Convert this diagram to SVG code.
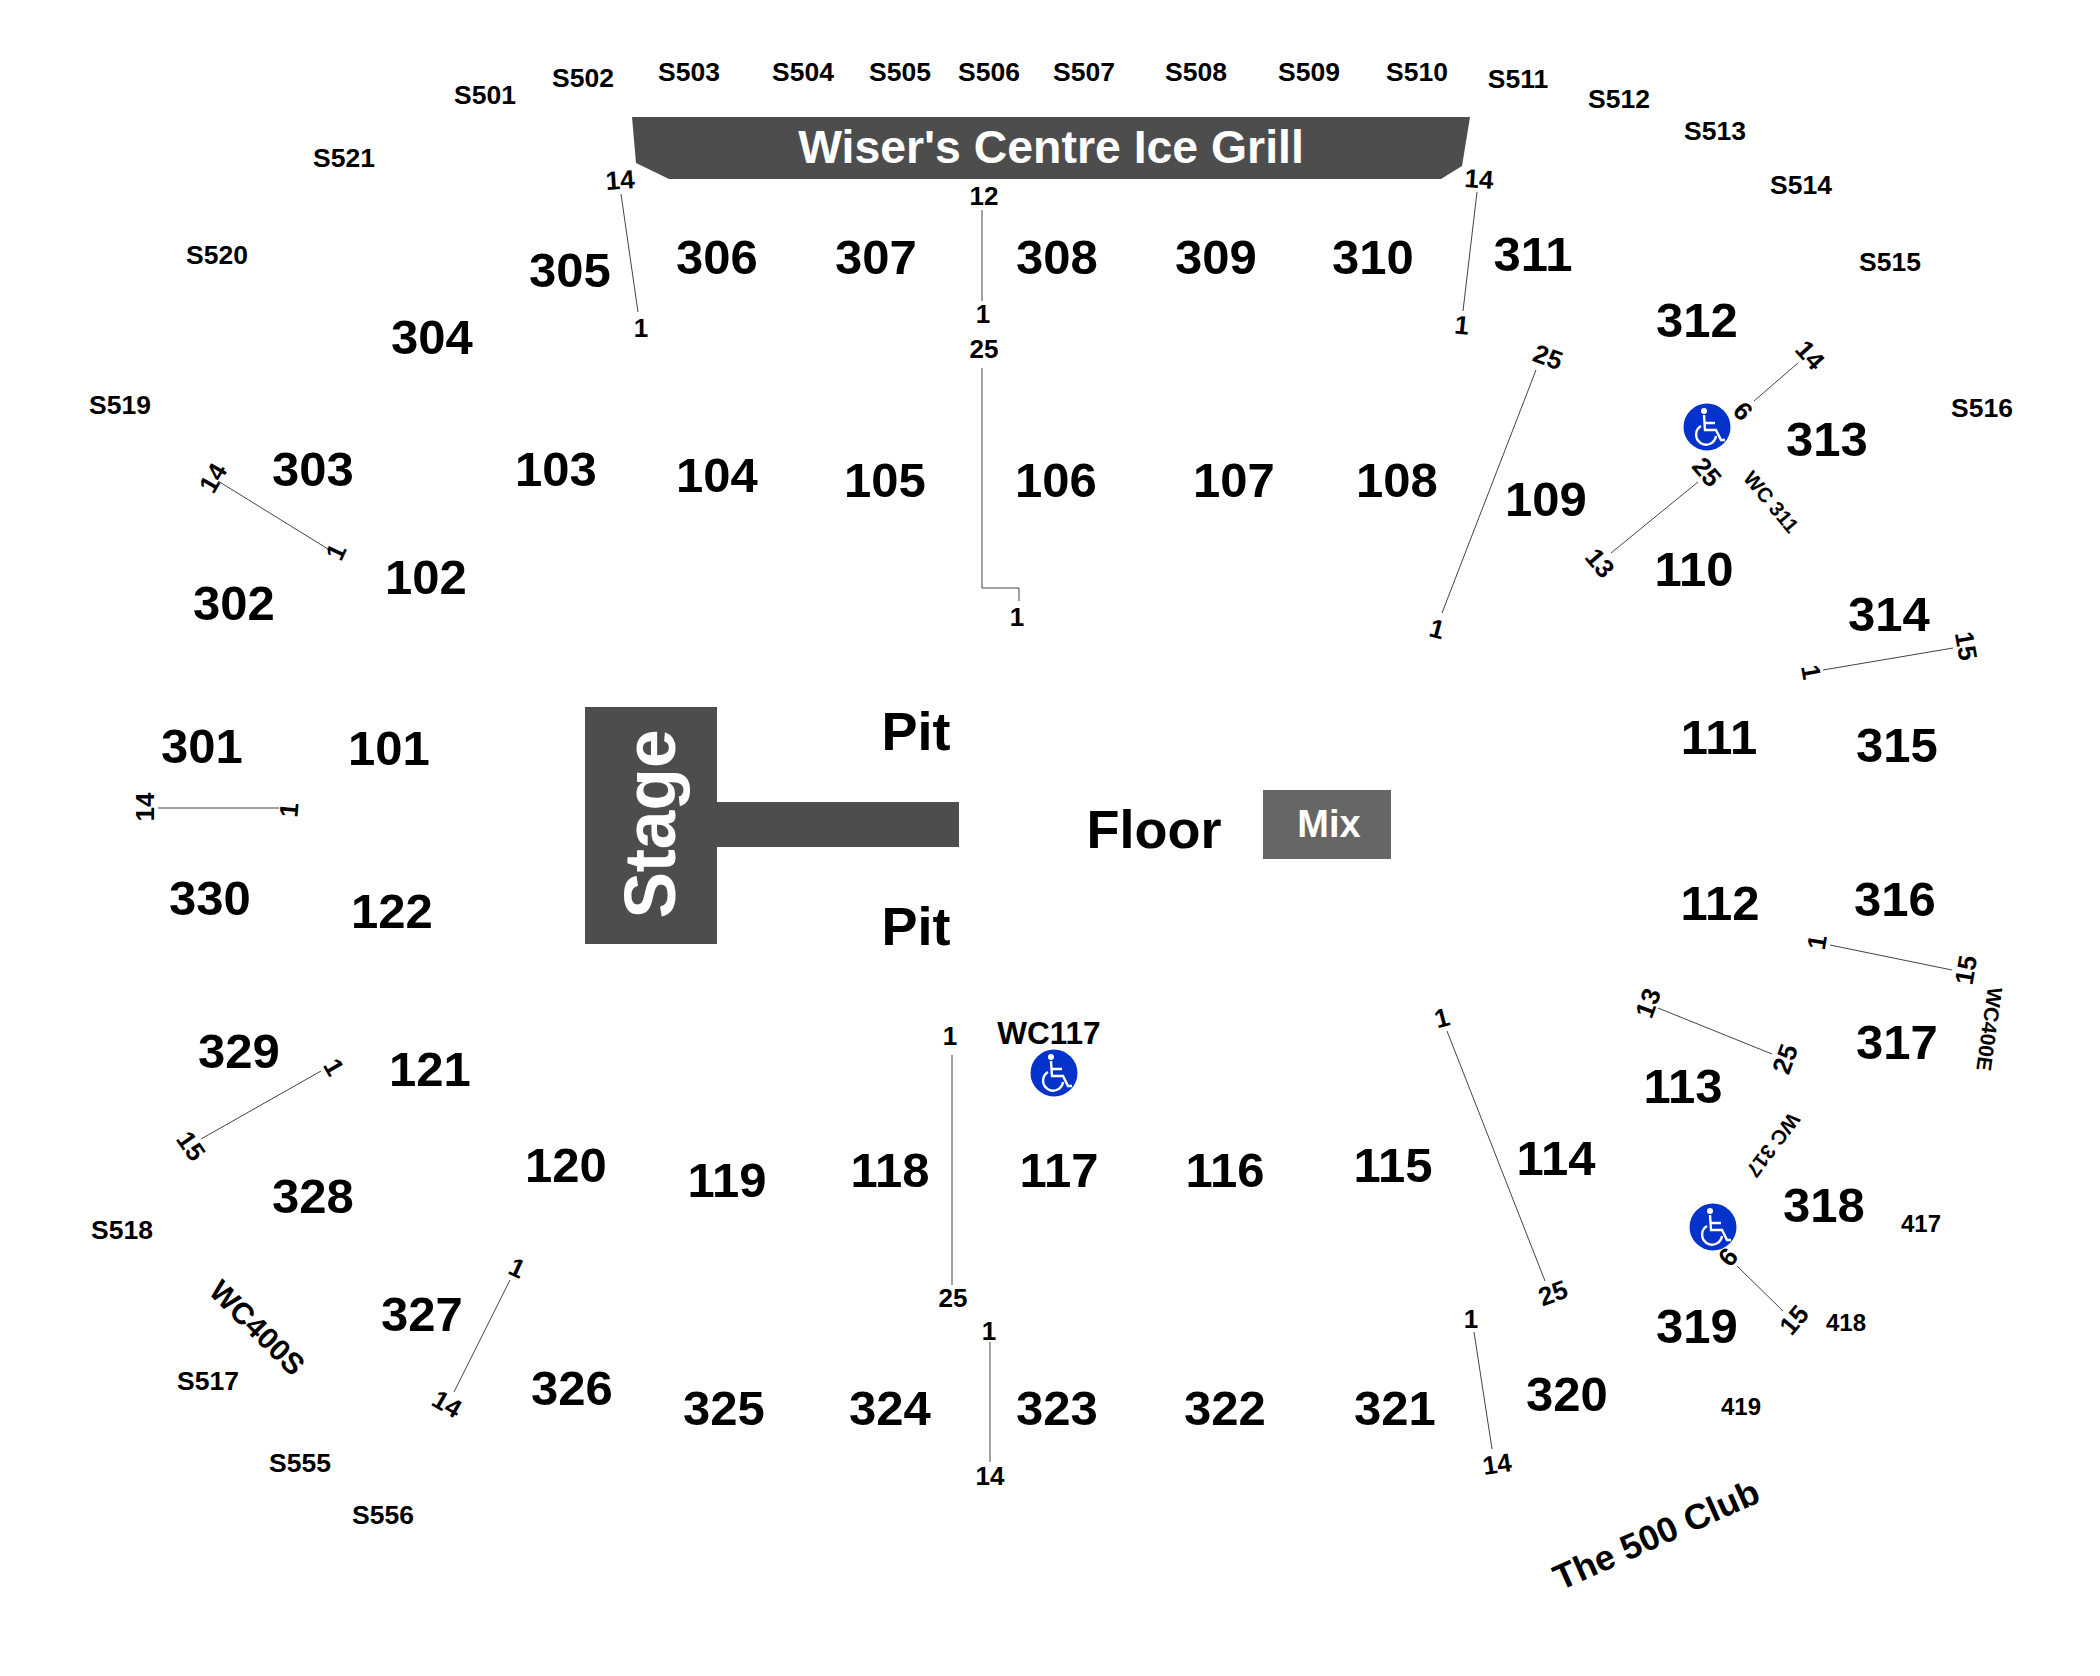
<svg xmlns="http://www.w3.org/2000/svg" width="2100" height="1676" viewBox="0 0 2100 1676">
<style>
text{font-family:"Liberation Sans",Arial,sans-serif;font-weight:700;text-anchor:middle;fill:#000}
.b{font-size:49px}.s{font-size:26.5px}.r{font-size:26px}.f{font-size:54px}.w{fill:#fff}.c{font-size:24px}
.ln{fill:none;stroke:#444;stroke-width:1}
.st{fill:#4d4d4d}.bl{fill:#0433cc}
.wh{fill:none;stroke:#fff;stroke-width:2.4}
</style>
<defs>
<g id="wc"><circle r="23.5" class="bl"/><circle cx="-3" cy="-16" r="3" fill="#fff"/><path class="wh" d="M-3-12-2 3H9L14 13H18M-3-4H8M-6-1A10 10 0 1 0 9 9"/></g>
</defs>
<rect width="2100" height="1676" fill="#fff"/>
<g id="connectors">
<path class="ln" d="M621 194 638 312M982 210V301M1477 192 1463 311M982 368V588H1019V601M1536 370 1442 613M1798 363 1754 401M1698 482 1611 553M1823 670 1953 648M1830 945 1952 970M1658 1008 1772 1054M1447 1031 1545 1281M1737 1266 1783 1311M1474 1332 1492 1449M952 1055V1285M990 1342V1462M218 481 328 549M158 808H279M201 1139 321 1071M510 1280 454 1392"/>
</g>
<g id="grill"><path class="st" d="M632 117H1470L1462 166 1441 179H669L636 163Z"/><text x="1051" y="163" font-size="46.4" class="w">Wiser's Centre Ice Grill</text></g>
<g id="stage"><path class="st" d="M585 707H717V802H959V847H717V944H585Z"/><text transform="translate(675 824) rotate(-90) scale(1 1.05)" font-size="69.5" class="w">Stage</text></g>
<g id="mix"><rect x="1263" y="790" width="128" height="69" fill="#666"/><text x="1329" y="837" font-size="38" class="w">Mix</text></g>
<g id="pit-1"><text class="f" x="916" y="750">Pit</text></g>
<g id="pit-2"><text class="f" x="916" y="945">Pit</text></g>
<g id="floor"><text class="f" x="1154" y="848">Floor</text></g>
<g id="wc117"><text x="1049" y="1044" font-size="31.5">WC117</text><use href="#wc" x="1054" y="1073"/></g>
<g id="wc-311"><use href="#wc" x="1707" y="427"/></g>
<g id="wc-317"><use href="#wc" x="1713" y="1227"/></g>
<g id="sections">
<g id="s305"><text class="b" x="570" y="287">305</text></g>
<g id="s306"><text class="b" x="717" y="274">306</text></g>
<g id="s307"><text class="b" x="876" y="274">307</text></g>
<g id="s308"><text class="b" x="1057" y="274">308</text></g>
<g id="s309"><text class="b" x="1216" y="274">309</text></g>
<g id="s310"><text class="b" x="1373" y="274">310</text></g>
<g id="s311"><text class="b" x="1533" y="271">311</text></g>
<g id="s312"><text class="b" x="1697" y="337">312</text></g>
<g id="s313"><text class="b" x="1827" y="456">313</text></g>
<g id="s314"><text class="b" x="1889" y="631">314</text></g>
<g id="s109"><text class="b" x="1546" y="516">109</text></g>
<g id="s110"><text class="b" x="1694" y="586">110</text></g>
<g id="s104"><text class="b" x="717" y="492">104</text></g>
<g id="s105"><text class="b" x="885" y="497">105</text></g>
<g id="s106"><text class="b" x="1056" y="497">106</text></g>
<g id="s107"><text class="b" x="1234" y="497">107</text></g>
<g id="s108"><text class="b" x="1397" y="497">108</text></g>
<g id="s103"><text class="b" x="556" y="486">103</text></g>
<g id="s304"><text class="b" x="432" y="354">304</text></g>
<g id="s303"><text class="b" x="313" y="486">303</text></g>
<g id="s102"><text class="b" x="426" y="594">102</text></g>
<g id="s302"><text class="b" x="234" y="620">302</text></g>
<g id="s301"><text class="b" x="202" y="763">301</text></g>
<g id="s101"><text class="b" x="389" y="765">101</text></g>
<g id="s330"><text class="b" x="210" y="915">330</text></g>
<g id="s122"><text class="b" x="392" y="928">122</text></g>
<g id="s111"><text class="b" x="1719" y="754">111</text></g>
<g id="s315"><text class="b" x="1897" y="762">315</text></g>
<g id="s112"><text class="b" x="1720" y="920">112</text></g>
<g id="s316"><text class="b" x="1895" y="916">316</text></g>
<g id="s317"><text class="b" x="1897" y="1059">317</text></g>
<g id="s113"><text class="b" x="1683" y="1103">113</text></g>
<g id="s114"><text class="b" x="1556" y="1175">114</text></g>
<g id="s318"><text class="b" x="1824" y="1222">318</text></g>
<g id="s319"><text class="b" x="1697" y="1343">319</text></g>
<g id="s320"><text class="b" x="1567" y="1411">320</text></g>
<g id="s329"><text class="b" x="239" y="1068">329</text></g>
<g id="s121"><text class="b" x="430" y="1086">121</text></g>
<g id="s328"><text class="b" x="313" y="1213">328</text></g>
<g id="s120"><text class="b" x="566" y="1182">120</text></g>
<g id="s327"><text class="b" x="422" y="1331">327</text></g>
<g id="s326"><text class="b" x="572" y="1405">326</text></g>
<g id="s119"><text class="b" x="727" y="1197">119</text></g>
<g id="s118"><text class="b" x="890" y="1187">118</text></g>
<g id="s117"><text class="b" x="1059" y="1187">117</text></g>
<g id="s116"><text class="b" x="1225" y="1187">116</text></g>
<g id="s115"><text class="b" x="1393" y="1182">115</text></g>
<g id="s325"><text class="b" x="724" y="1425">325</text></g>
<g id="s324"><text class="b" x="890" y="1425">324</text></g>
<g id="s323"><text class="b" x="1057" y="1425">323</text></g>
<g id="s322"><text class="b" x="1225" y="1425">322</text></g>
<g id="s321"><text class="b" x="1395" y="1425">321</text></g>
<g id="s417"><text class="c" x="1921" y="1232">417</text></g>
<g id="s418"><text class="c" x="1846" y="1331">418</text></g>
<g id="s419"><text class="c" x="1741" y="1415">419</text></g>
</g>
<g id="suites">
<text class="s" x="485" y="104">S501</text><text class="s" x="583" y="87">S502</text><text class="s" x="689" y="81">S503</text><text class="s" x="803" y="81">S504</text><text class="s" x="900" y="81">S505</text><text class="s" x="989" y="81">S506</text><text class="s" x="1084" y="81">S507</text><text class="s" x="1196" y="81">S508</text><text class="s" x="1309" y="81">S509</text><text class="s" x="1417" y="81">S510</text><text class="s" x="1518" y="88">S511</text><text class="s" x="1619" y="108">S512</text><text class="s" x="1715" y="140">S513</text><text class="s" x="1801" y="194">S514</text><text class="s" x="1890" y="271">S515</text><text class="s" x="1982" y="417">S516</text><text class="s" x="344" y="167">S521</text><text class="s" x="217" y="264">S520</text><text class="s" x="120" y="414">S519</text><text class="s" x="122" y="1239">S518</text><text class="s" x="208" y="1390">S517</text><text class="s" x="300" y="1472">S555</text><text class="s" x="383" y="1524">S556</text>
</g>
<g id="row-labels">
<text class="r" transform="translate(620 180) rotate(-4)" y="9">14</text>
<text class="r" x="641" y="337">1</text>
<text class="r" x="984" y="205">12</text>
<text class="r" x="983" y="323">1</text>
<text class="r" x="984" y="358">25</text>
<text class="r" transform="translate(1479 179) rotate(4)" y="9">14</text>
<text class="r" transform="translate(1462 325) rotate(6)" y="9">1</text>
<text class="r" transform="translate(1437 629) rotate(15)" y="9">1</text>
<text class="r" transform="translate(1548 357) rotate(20)" y="9">25</text>
<text class="r" x="1017" y="626">1</text>
<text class="r" transform="translate(1810 355) rotate(48)" y="9">14</text>
<text class="r" transform="translate(1743 411) rotate(48)" y="9">6</text>
<text class="r" transform="translate(1707 472) rotate(50)" y="9">25</text>
<text class="r" transform="translate(1600 563) rotate(50)" y="9">13</text>
<text class="r" transform="translate(1811 672) rotate(80)" y="9">1</text>
<text class="r" transform="translate(1966 646) rotate(80)" y="9">15</text>
<text class="r" transform="translate(1817 942) rotate(-80)" y="9">1</text>
<text class="r" transform="translate(1966 970) rotate(-80)" y="9">15</text>
<text class="r" transform="translate(1648 1003) rotate(-70)" y="9">13</text>
<text class="r" transform="translate(1785 1059) rotate(-70)" y="9">25</text>
<text class="r" transform="translate(1553 1293) rotate(-20)" y="9">25</text>
<text class="r" transform="translate(1728 1257) rotate(-50)" y="9">6</text>
<text class="r" transform="translate(1794 1320) rotate(-50)" y="9">15</text>
<text class="r" transform="translate(1442 1018) rotate(-15)" y="9">1</text>
<text class="r" x="950" y="1045">1</text>
<text class="r" x="953" y="1307">25</text>
<text class="r" x="989" y="1340">1</text>
<text class="r" x="990" y="1485">14</text>
<text class="r" x="1471" y="1328">1</text>
<text class="r" transform="translate(1497 1464) rotate(-8)" y="9">14</text>
<text class="r" transform="translate(213 478) rotate(-60)" y="9">14</text>
<text class="r" transform="translate(336 552) rotate(-65)" y="9">1</text>
<text class="r" transform="translate(145 807) rotate(-90)" y="9">14</text>
<text class="r" transform="translate(289 810) rotate(-85)" y="9">1</text>
<text class="r" transform="translate(334 1067) rotate(60)" y="9">1</text>
<text class="r" transform="translate(191 1146) rotate(55)" y="9">15</text>
<text class="r" transform="translate(517 1268) rotate(25)" y="9">1</text>
<text class="r" transform="translate(447 1404) rotate(30)" y="9">14</text>
</g>
<g id="notes">
<text font-size="20.5" transform="translate(1771 502) rotate(50)" y="7">WC 311</text>
<text font-size="21" transform="translate(1989 1029) rotate(98)" y="7">WC400E</text>
<text font-size="20.5" transform="translate(1773 1145) rotate(127)" y="7">WC 317</text>
<text font-size="30" transform="translate(257 1328) rotate(45)" y="10">WC400S</text>
<text font-size="35.5" transform="translate(1656 1534) rotate(-24)" y="13">The 500 Club</text>
</g>
</svg>
